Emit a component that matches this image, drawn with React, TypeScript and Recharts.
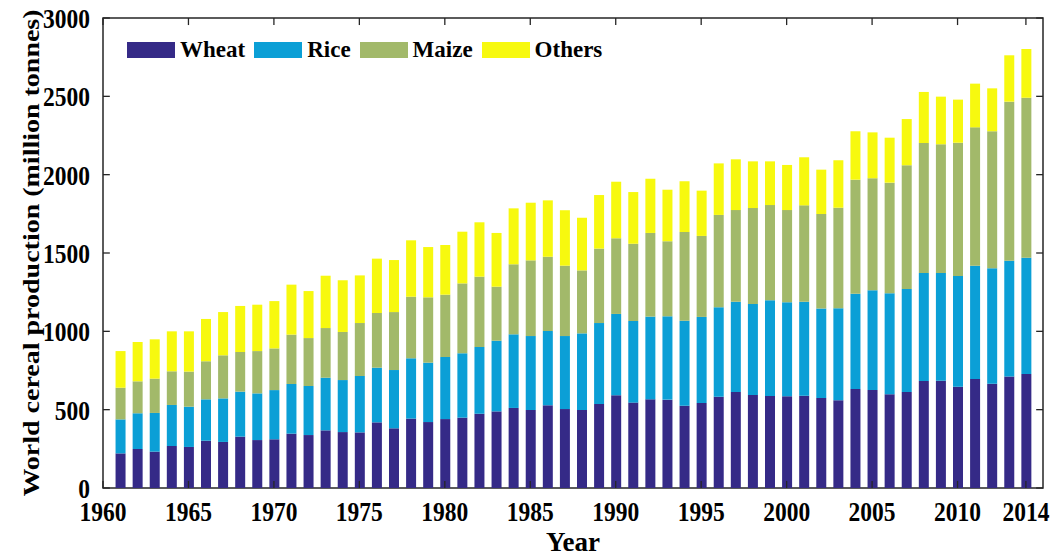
import React from 'react';
import { BarChart, Bar, XAxis, YAxis, Legend, ReferenceArea, ReferenceLine } from 'recharts';

// years 1961..2014, values in million tonnes
const years = [
  1961, 1962, 1963, 1964, 1965, 1966, 1967, 1968, 1969, 1970,
  1971, 1972, 1973, 1974, 1975, 1976, 1977, 1978, 1979, 1980,
  1981, 1982, 1983, 1984, 1985, 1986, 1987, 1988, 1989, 1990,
  1991, 1992, 1993, 1994, 1995, 1996, 1997, 1998, 1999, 2000,
  2001, 2002, 2003, 2004, 2005, 2006, 2007, 2008, 2009, 2010,
  2011, 2012, 2013, 2014,
];

const wheat = [
  221, 249, 232, 268, 262, 302, 294, 328, 306, 311,
  347, 338, 368, 357, 355, 419, 381, 443, 421, 440,
  449, 474, 489, 511, 498, 528, 504, 498, 536, 592,
  545, 566, 564, 525, 543, 583, 613, 594, 587, 585,
  589, 574, 560, 632, 626, 598, 613, 683, 685, 647,
  696, 666, 711, 728,
];

const rice = [
  217, 228, 247, 262, 257, 264, 278, 287, 298, 314,
  317, 313, 336, 332, 360, 349, 372, 385, 379, 396,
  411, 426, 451, 470, 472, 474, 466, 489, 517, 519,
  521, 528, 532, 543, 549, 570, 576, 580, 611, 600,
  600, 571, 587, 608, 636, 645, 657, 689, 687, 706,
  723, 736, 740, 742,
];

const maize = [
  202, 204, 219, 215, 224, 243, 275, 253, 270, 266,
  315, 306, 317, 307, 338, 349, 370, 393, 417, 398,
  446, 449, 345, 447, 483, 474, 449, 402, 475, 483,
  493, 534, 479, 566, 517, 590, 585, 613, 608, 589,
  615, 604, 642, 728, 715, 706, 790, 830, 822, 851,
  883, 875, 1015, 1021,
];

const others = [
  234, 251, 251, 255, 257, 270, 276, 294, 296, 302,
  319, 300, 334, 330, 304, 347, 332, 360, 321, 317,
  330, 347, 343, 357, 368, 360, 354, 336, 342, 361,
  330, 346, 329, 324, 289, 329, 324, 298, 279, 288,
  307, 283, 303, 309, 293, 287, 295, 326, 304, 275,
  279, 274, 296, 311,
];

const xTicks = [1960, 1965, 1970, 1975, 1980, 1985, 1990, 1995, 2000, 2005, 2010, 2014];
const yTicks = [0, 500, 1000, 1500, 2000, 2500, 3000];
const xDomain: [number, number] = [1960, 2015];
const yDomain: [number, number] = [0, 3000];

const series = [
  { key: 'wheat', name: 'Wheat', color: '#352a87' },
  { key: 'rice', name: 'Rice', color: '#0b9fd6' },
  { key: 'maize', name: 'Maize', color: '#a2b96a' },
  { key: 'others', name: 'Others', color: '#f7f90f' },
];

const data = years.map((year, i) => ({
  year,
  wheat: wheat[i],
  rice: rice[i],
  maize: maize[i],
  others: others[i],
}));

const font = '"Liberation Serif", "Times New Roman", serif';
const axisColor = '#262626';
const txt = { fill: '#000', fontFamily: font, fontWeight: 'bold' as const };

// inward tick length, in data units (about 7px)
const xTickLen = 0.4;
const yTickLen = 45;

// the source figure is a bit squeezed sideways, so text is narrowed a little
const XTick = ({ x, payload }: any) => (
  <g transform={`translate(${x},521)`}>
    <text transform="scale(0.84,1)" textAnchor="middle" fontSize={28} {...txt}>
      {payload.value}
    </text>
  </g>
);

const YTick = ({ x, y, payload }: any) => (
  <g transform={`translate(${x},${y})`}>
    <text transform="scale(0.84,1)" textAnchor="end" dy={10} fontSize={28} {...txt}>
      {payload.value}
    </text>
  </g>
);

const XTitle = ({ viewBox }: any) => (
  <text x={viewBox.x + viewBox.width / 2} y={551} textAnchor="middle" fontSize={27} {...txt}>
    Year
  </text>
);

const YTitle = ({ viewBox }: any) => (
  <g transform={`translate(39,${viewBox.y + viewBox.height / 2}) rotate(-90) scale(1,0.84)`}>
    <text x={0} y={0} textAnchor="middle" fontSize={28} {...txt}>
      World cereal production (million tonnes)
    </text>
  </g>
);

function LegendBox() {
  return (
    <div style={{ display: 'flex', alignItems: 'center', fontFamily: font, fontWeight: 'bold', fontSize: 23, color: '#000', lineHeight: '24px' }}>
      {series.map((s) => (
        <div key={s.key} style={{ display: 'flex', alignItems: 'center', marginRight: 9 }}>
          <span style={{ display: 'inline-block', width: 48, height: 16, background: s.color, marginRight: 5 }} />
          <span>{s.name}</span>
        </div>
      ))}
    </div>
  );
}

export default function App() {
  const tickStyle = { stroke: axisColor, strokeWidth: 1.3, ifOverflow: 'visible' as const };
  return (
    <div style={{ position: 'absolute', left: 0, top: 0, width: 1055, height: 558, background: '#fff' }}>
      <BarChart
        width={1055}
        height={558}
        data={data}
        margin={{ top: 18, right: 12, bottom: 0, left: 8 }}
        barSize={10}
      >
        <XAxis
          dataKey="year"
          type="number"
          domain={xDomain}
          ticks={xTicks}
          interval={0}
          height={70}
          axisLine={false}
          tickLine={false}
          tick={<XTick />}
          label={<XTitle />}
        />
        <YAxis
          domain={yDomain}
          ticks={yTicks}
          interval={0}
          width={95}
          axisLine={false}
          tickLine={false}
          tickMargin={7}
          tick={<YTick />}
          label={<YTitle />}
        />
        <Legend
          layout="horizontal"
          verticalAlign="middle"
          align="center"
          content={() => <LegendBox />}
          wrapperStyle={{ top: 38, left: 127, width: 'auto' }}
        />
        {series.map((s) => (
          <Bar key={s.key} dataKey={s.key} name={s.name} stackId="a" fill={s.color} isAnimationActive={false} />
        ))}
        {yTicks.map((v) => (
          <ReferenceLine key={`yl${v}`} segment={[{ x: xDomain[0], y: v }, { x: xDomain[0] + xTickLen, y: v }]} {...tickStyle} />
        ))}
        {yTicks.map((v) => (
          <ReferenceLine key={`yr${v}`} segment={[{ x: xDomain[1] - xTickLen, y: v }, { x: xDomain[1], y: v }]} {...tickStyle} />
        ))}
        {xTicks.map((t) => (
          <ReferenceLine key={`xt${t}`} segment={[{ x: t, y: yDomain[1] }, { x: t, y: yDomain[1] - yTickLen }]} {...tickStyle} />
        ))}
        {xTicks.map((t) => (
          <ReferenceLine key={`xb${t}`} segment={[{ x: t, y: yDomain[0] }, { x: t, y: yDomain[0] + yTickLen }]} {...tickStyle} />
        ))}
        <ReferenceArea
          x1={xDomain[0]}
          x2={xDomain[1]}
          y1={yDomain[0]}
          y2={yDomain[1]}
          fill="none"
          stroke={axisColor}
          strokeWidth={1.5}
          ifOverflow="visible"
        />
      </BarChart>
    </div>
  );
}
